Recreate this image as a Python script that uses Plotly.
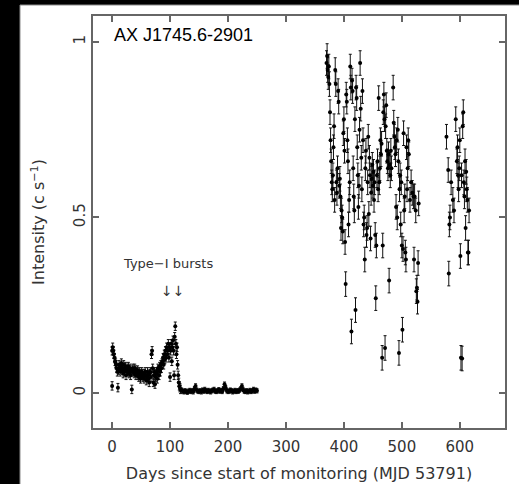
import plotly.graph_objects as go

# Light curve of AX J1745.6-2901, days since MJD 53791
# Early monitoring: outburst decay and quiescence (days 0-250)
early_days = [0, 0, 1, 2, 3, 4, 5, 6, 7, 8, 9, 10, 11, 12, 13, 14, 15, 16, 17, 18, 19,
              20, 21, 22, 23, 24, 25, 26, 27, 28, 29, 30, 31, 32, 33, 34, 35, 36, 37, 38, 39,
              40, 41, 42, 43, 44, 45, 46, 47, 48, 49, 50, 51, 52, 53, 54, 55, 56, 57, 58, 59,
              60, 61, 62, 63, 64, 65, 66, 67, 68, 69, 70, 71, 72, 73, 74, 75, 76, 77, 78, 79,
              80, 81, 82, 83, 84, 85, 86, 87, 88, 89, 90, 91, 92, 93, 94, 95, 96, 97, 98, 99,
              100, 101, 102, 103, 104, 105, 106, 107, 108, 109, 110, 111, 112, 113, 114, 115,
              116, 117, 118]
early_rate = [0.12, 0.02, 0.13, 0.12, 0.11, 0.10, 0.09, 0.085, 0.08, 0.07, 0.06, 0.015, 0.065, 0.08, 0.07, 0.06, 0.075, 0.085, 0.07, 0.065, 0.055,
              0.08, 0.06, 0.07, 0.075, 0.05, 0.065, 0.07, 0.06, 0.075, 0.055, 0.065, 0.07, 0.05, 0.06, 0.01, 0.065, 0.07, 0.06, 0.055, 0.07,
              0.065, 0.05, 0.06, 0.055, 0.065, 0.05, 0.045, 0.06, 0.055, 0.04, 0.05, 0.06, 0.055, 0.045, 0.05, 0.04, 0.055, 0.06, 0.05, 0.035,
              0.045, 0.06, 0.05, 0.04, 0.03, 0.055, 0.06, 0.045, 0.11, 0.12, 0.07, 0.03, 0.05, 0.06, 0.025, 0.045, 0.055, 0.06, 0.04, 0.07,
              0.065, 0.05, 0.075, 0.06, 0.08, 0.07, 0.085, 0.09, 0.10, 0.08, 0.11, 0.095, 0.12, 0.10, 0.13, 0.11, 0.12, 0.14, 0.10, 0.13,
              0.045, 0.12, 0.14, 0.09, 0.13, 0.15, 0.12, 0.05, 0.16, 0.19, 0.14, 0.11, 0.13, 0.08, 0.05, 0.03,
              0.02, 0.015, 0.01]
early_err = [0.012] * len(early_days)

quiet_days = [120, 122, 124, 126, 128, 130, 132, 134, 136, 138, 140, 142, 144, 146, 148,
              150, 152, 154, 156, 158, 160, 162, 164, 166, 168, 170, 172, 174, 176, 178,
              180, 182, 184, 186, 188, 190, 192, 194, 196, 198, 200, 202, 204, 206, 208,
              210, 212, 214, 216, 218, 220, 222, 224, 226, 228, 230, 232, 234, 236, 238,
              240, 242, 244, 246, 248, 250]
quiet_rate = [0.008, 0.005, 0.003, 0.006, 0.004, 0.002, 0.005, 0.007, 0.004, 0.006, 0.003, 0.012, 0.02, 0.008, 0.005,
              0.004, 0.006, 0.003, 0.008, 0.005, 0.01, 0.006, 0.004, 0.007, 0.005, 0.003, 0.006, 0.008, 0.01, 0.005,
              0.004, 0.006, 0.009, 0.005, 0.007, 0.004, 0.012, 0.025, 0.015, 0.006, 0.004, 0.005, 0.008, 0.006, 0.003,
              0.005, 0.007, 0.004, 0.006, 0.005, 0.008, 0.012, 0.02, 0.01, 0.005, 0.004, 0.006, 0.003, 0.005, 0.007,
              0.004, 0.006, 0.01, 0.005, 0.008, 0.006]
quiet_err = [0.006] * len(quiet_days)

# Later monitoring: renewed outburst (days 370-616)
late_days = [370, 371, 372, 373, 374, 375, 376, 377, 378, 379, 380, 381, 382, 383, 384, 385, 386, 387, 388, 389,
             390, 391, 392, 393, 394, 395, 396, 397, 398, 399, 400, 401, 402, 403, 404, 405, 406, 407, 408, 409,
             410, 411, 412, 413, 414, 415, 416, 417, 418, 419, 420, 421, 422, 423, 424, 425, 426, 427, 428, 429,
             430, 431, 432, 433, 434, 435, 436, 437, 438, 439, 440, 441, 442, 443, 444, 445, 446, 447, 448, 449,
             450, 451, 452, 453, 454, 455, 456, 457, 458, 459, 460, 461, 462, 463, 464, 465, 466, 467, 468, 469,
             470, 471, 472, 473, 474, 475, 476, 477, 478, 479, 480, 481, 482, 485, 486, 487, 488, 489, 490, 491,
             492, 493, 494, 495, 496, 497, 498, 499, 500, 501, 502, 503, 504, 505, 506, 507, 508, 509, 510, 511,
             512, 514, 516, 518, 520, 521, 522, 524, 525, 526, 527, 528, 529,
             577, 580, 581, 582, 583, 585, 588, 590, 593, 595, 596, 597, 598, 599, 600, 601, 602, 603, 604, 605,
             606, 607, 608, 609, 610, 611, 612, 613, 614, 615, 616]
late_rate = [0.94, 0.96, 0.92, 0.90, 0.93, 0.88, 0.80, 0.72, 0.66, 0.60, 0.58, 0.62, 0.70, 0.76, 0.55, 0.92, 0.88, 0.60, 0.57, 0.64,
             0.86, 0.83, 0.59, 0.61, 0.56, 0.47, 0.52, 0.50, 0.46, 0.74, 0.78, 0.69, 0.43, 0.31, 0.85, 0.83, 0.72, 0.66, 0.48, 0.55,
             0.60, 0.93, 0.87, 0.175, 0.89, 0.86, 0.64, 0.56, 0.52, 0.78, 0.236, 0.87, 0.84, 0.70, 0.62, 0.53, 0.59, 0.75, 0.94, 0.81,
             0.67, 0.58, 0.86, 0.72, 0.48, 0.50, 0.38, 0.64, 0.69, 0.45, 0.47, 0.60, 0.73, 0.51, 0.67, 0.62, 0.44, 0.57, 0.61, 0.65,
             0.59, 0.63, 0.55, 0.60, 0.45, 0.27, 0.42, 0.62, 0.66, 0.58, 0.84, 0.60, 0.64, 0.72, 0.68, 0.71, 0.10, 0.42, 0.80, 0.85,
             0.78, 0.128, 0.76, 0.82, 0.69, 0.66, 0.64, 0.68, 0.32, 0.65, 0.62, 0.69, 0.64, 0.87, 0.77, 0.73, 0.70, 0.68, 0.53, 0.72,
             0.50, 0.75, 0.66, 0.114, 0.58, 0.62, 0.48, 0.60, 0.42, 0.18, 0.41, 0.74, 0.52, 0.56, 0.40, 0.38, 0.70, 0.58, 0.64, 0.72,
             0.68, 0.55, 0.60, 0.57, 0.56, 0.38, 0.56, 0.52, 0.29, 0.30, 0.26, 0.37, 0.54,
             0.73, 0.635, 0.34, 0.48, 0.50, 0.60, 0.55, 0.52, 0.78, 0.66, 0.70, 0.62, 0.58, 0.64, 0.72, 0.39, 0.10, 0.62, 0.098, 0.76,
             0.80, 0.60, 0.56, 0.66, 0.47, 0.63, 0.58, 0.55, 0.40, 0.40, 0.52]
late_err = [0.035] * len(late_days)

INK = "#333333"
AXIS = "#666666"
FONT = "DejaVu Sans"

fig = go.Figure()


def add_series(days, rate, err):
    fig.add_trace(go.Scatter(
        x=days, y=rate, mode="markers",
        marker=dict(color="black", size=4),
        error_y=dict(type="data", array=err, visible=True, color="#111111",
                     thickness=1, width=1.5),
        showlegend=False, hoverinfo="x+y",
    ))


add_series(early_days, early_rate, early_err)
add_series(quiet_days, quiet_rate, quiet_err)
add_series(late_days, late_rate, late_err)

# Burst markers
fig.add_annotation(x=104, y=0.29, xref="x", yref="y", text="\u2193\u2193",
                   showarrow=False, font=dict(family=FONT, size=14, color=INK))
fig.add_annotation(x=96, y=0.37, xref="x", yref="y", text="Type\u2212I bursts",
                   showarrow=False, font=dict(family=FONT, size=13, color=INK))

fig.add_annotation(x=0.046, y=0.954, xref="paper", yref="paper", xanchor="left",
                   yanchor="middle", text="AX J1745.6-2901", showarrow=False,
                   font=dict(family="Liberation Sans", size=18, color="black"))

# White page behind the axes
fig.add_shape(type="rect", xref="paper", yref="paper", x0=-0.1772, x1=1.05,
              y0=-0.15, y1=1.0267, fillcolor="white", line=dict(color="#888888", width=1),
              layer="below")

axis_common = dict(showgrid=False, zeroline=False, showline=True, linecolor=AXIS,
                   linewidth=2, mirror="ticks", ticks="inside", ticklen=6,
                   tickwidth=1.5, tickcolor=AXIS, automargin=False,
                   tickfont=dict(family=FONT, size=15, color=INK))

fig.update_layout(
    width=519, height=484,
    margin=dict(l=93, r=14, t=16, b=56),
    paper_bgcolor="black", plot_bgcolor="white",
    xaxis=dict(range=[-33, 678], tickvals=[0, 100, 200, 300, 400, 500, 600],
               ticktext=["0", "100", "200", "300", "400", "500", "600"],
               ticklabelstandoff=4,
               title=dict(text="Days since start of monitoring (MJD 53791)", standoff=13,
                          font=dict(family=FONT, size=16, color=INK)),
               **axis_common),
    yaxis=dict(range=[-0.1, 1.074], tickvals=[0, 0.5, 1], ticktext=["0", "0.5", "1"],
               tickangle=-90, ticklabelstandoff=0,
               title=dict(text="Intensity (c s<sup>\u22121</sup>)", standoff=22,
                          font=dict(family=FONT, size=16, color=INK)),
               **axis_common),
)

fig.write_html("out.html")
